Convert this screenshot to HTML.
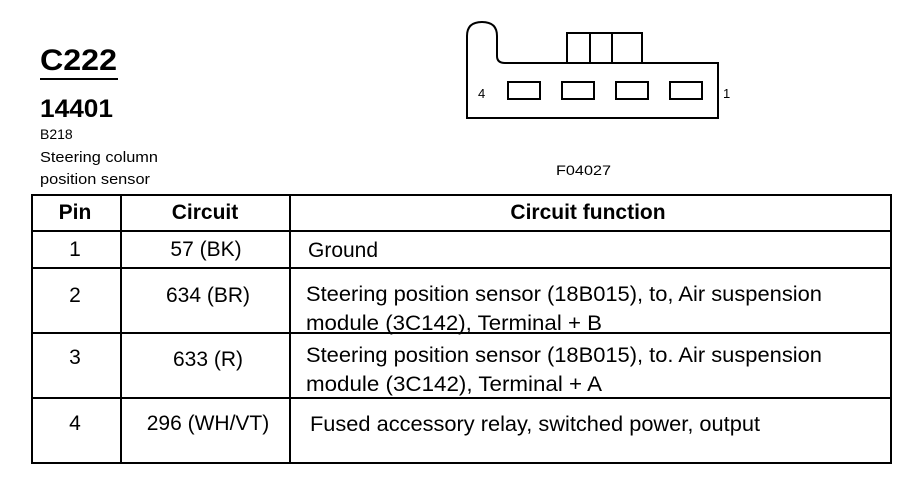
<!DOCTYPE html>
<html><head><style>
body{margin:0;width:908px;height:480px;background:#fff;position:relative;font-family:"Liberation Sans",sans-serif;color:#000;overflow:hidden}
.a{position:absolute;white-space:nowrap}
</style></head><body>
<svg class="a" style="left:0;top:0" width="908" height="480">
<g font-family="Liberation Sans">
<text x="40" y="70" font-size="30" font-weight="bold" textLength="77" lengthAdjust="spacingAndGlyphs">C222</text>
<text x="40" y="117" font-size="25" font-weight="bold" textLength="73" lengthAdjust="spacingAndGlyphs">14401</text>
<text x="40" y="139" font-size="14">B218</text>
<text x="40" y="162" font-size="15" textLength="118" lengthAdjust="spacingAndGlyphs">Steering column</text>
<text x="40" y="184" font-size="15" textLength="110" lengthAdjust="spacingAndGlyphs">position sensor</text>
<text x="556" y="175" font-size="14" textLength="55" lengthAdjust="spacingAndGlyphs">F04027</text>
</g>
<line x1="40" y1="79" x2="118" y2="79" stroke="#000" stroke-width="2"/>
<g fill="none" stroke="#000" stroke-width="2">
<path d="M467,118 V36 Q467,22 482,22 Q497,22 497,36 V56 Q497,63 505,63 H718 V118 Z"/>
<path d="M567,63 V33 H642 V63 M590,33 V63 M612,33 V63"/>
<rect x="508" y="82" width="32" height="17"/>
<rect x="562" y="82" width="32" height="17"/>
<rect x="616" y="82" width="32" height="17"/>
<rect x="670" y="82" width="32" height="17"/>
</g>
<text x="478" y="98" font-size="13" font-family="Liberation Sans">4</text>
<text x="723" y="98" font-size="13" font-family="Liberation Sans">1</text>
<g stroke="#000" stroke-width="2" fill="none">
<rect x="32" y="195" width="859" height="268"/>
<line x1="121" y1="195" x2="121" y2="463"/>
<line x1="290" y1="195" x2="290" y2="463"/>
<line x1="32" y1="231" x2="891" y2="231"/>
<line x1="32" y1="268" x2="891" y2="268"/>
<line x1="32" y1="333" x2="891" y2="333"/>
<line x1="32" y1="398" x2="891" y2="398"/>
</g>
<g font-family="Liberation Sans" font-size="21">
<g font-weight="bold" text-anchor="middle"><text x="75" y="219">Pin</text><text x="205" y="219">Circuit</text><text x="588" y="219">Circuit function</text></g>
<g text-anchor="middle"><text x="75" y="256">1</text><text x="206" y="256">57 (BK)</text>
<text x="75" y="302">2</text><text x="208" y="302">634 (BR)</text>
<text x="75" y="364">3</text><text x="208" y="366">633 (R)</text>
<text x="75" y="430">4</text><text x="208" y="430">296 (WH/VT)</text></g>
<text x="308" y="257">Ground</text>
<text x="306" y="301" textLength="516" lengthAdjust="spacingAndGlyphs">Steering position sensor (18B015), to, Air suspension</text>
<text x="306" y="330" textLength="296" lengthAdjust="spacingAndGlyphs">module (3C142), Terminal + B</text>
<text x="306" y="362" textLength="516" lengthAdjust="spacingAndGlyphs">Steering position sensor (18B015), to. Air suspension</text>
<text x="306" y="391" textLength="296" lengthAdjust="spacingAndGlyphs">module (3C142), Terminal + A</text>
<text x="310" y="431" textLength="450" lengthAdjust="spacingAndGlyphs">Fused accessory relay, switched power, output</text>
</g>
</svg>
</body></html>
